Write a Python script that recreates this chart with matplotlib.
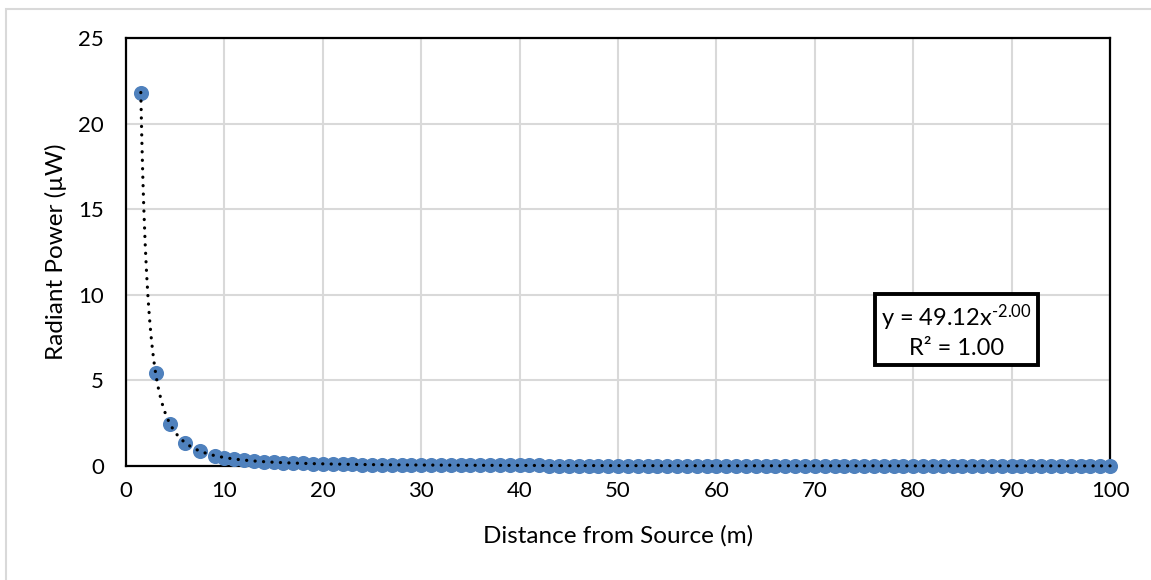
import matplotlib
matplotlib.use("Agg")
import matplotlib.pyplot as plt
import numpy as np
from matplotlib.patches import Rectangle

plt.rcParams['font.family'] = ['Lato', 'DejaVu Sans']
plt.rcParams['mathtext.default'] = 'regular'

# measured radiant power vs. distance
distance = [1.5, 3, 4.5, 6, 7.5, 9] + list(range(10, 101))
power = [21.83, 5.458, 2.426, 1.364, 0.873, 0.606,
         0.491, 0.406, 0.341, 0.291, 0.251, 0.218, 0.192, 0.170, 0.152, 0.136,
         0.123, 0.111, 0.101, 0.093, 0.085, 0.079, 0.073, 0.067, 0.063, 0.058,
         0.055, 0.051, 0.048, 0.045, 0.042, 0.040, 0.038, 0.036, 0.034, 0.032,
         0.031, 0.029, 0.028, 0.027, 0.025, 0.024, 0.023, 0.022, 0.021, 0.020,
         0.020, 0.019, 0.018, 0.017, 0.017, 0.016, 0.016, 0.015, 0.015, 0.014,
         0.014, 0.013, 0.013, 0.012, 0.012, 0.012, 0.011, 0.011, 0.011, 0.010,
         0.010, 0.010, 0.009, 0.009, 0.009, 0.009, 0.009, 0.008, 0.008, 0.008,
         0.008, 0.007, 0.007, 0.007, 0.007, 0.007, 0.007, 0.006, 0.006, 0.006,
         0.006, 0.006, 0.006, 0.006, 0.006, 0.005, 0.005, 0.005, 0.005, 0.005,
         0.005]

# power-law trendline coefficients
fit_a = 49.12
fit_b = -2.00
fit_r2 = 1.00

fs = 16
fs_label = 17.5

fig = plt.figure(figsize=(11.51, 5.80), dpi=100)
fig.patches.append(Rectangle((6 / 1151, -0.01), 1.2, 1 - 9 / 580 + 0.01,
                             transform=fig.transFigure, fill=False,
                             edgecolor='#d9d9d9', linewidth=1.5))

ax = fig.add_axes([0.1095, 0.1966, 0.8549, 0.7374])
ax.set_xlim(0, 100)
ax.set_ylim(0, 25)
ax.set_xticks(range(0, 101, 10))
ax.set_yticks(range(0, 26, 5))
ax.grid(True, color='#d9d9d9', linewidth=1.5)
ax.set_axisbelow(True)
for s in ax.spines.values():
    s.set_color('black')
    s.set_linewidth(1.6)
ax.tick_params(length=0, labelsize=fs, pad=11)
ax.tick_params(axis='y', pad=16)

ax.scatter(distance, power, s=118, color='#4f81bd', zorder=3, clip_on=False,
           linewidths=0)

xf = np.linspace(min(distance), max(distance), 2000)
ax.plot(xf, fit_a * xf ** fit_b, color='black', linewidth=2.3,
        linestyle=(0, (0.05, 2.6)), dash_capstyle='round', zorder=4,
        clip_on=False)

# equation label; superscript uses a plain hyphen
exp_txt = f"{fit_b:.2f}".replace('-', '\u2010')
ax.text(84.4, 7.9,
        f"y = {fit_a:.2f}x$^{{{exp_txt}}}$\nR² = {fit_r2:.2f}",
        ha='center', va='center', fontsize=17, linespacing=1.3,
        multialignment='center',
        bbox=dict(boxstyle='square,pad=0.25', facecolor='white',
                  edgecolor='black', linewidth=2.8), zorder=5)

ax.set_xlabel("Distance from Source (m)", fontsize=fs_label, labelpad=17)
ax.set_ylabel("Radiant Power (µW)", fontsize=fs_label, labelpad=8)

fig.savefig("out.png", dpi=100)
